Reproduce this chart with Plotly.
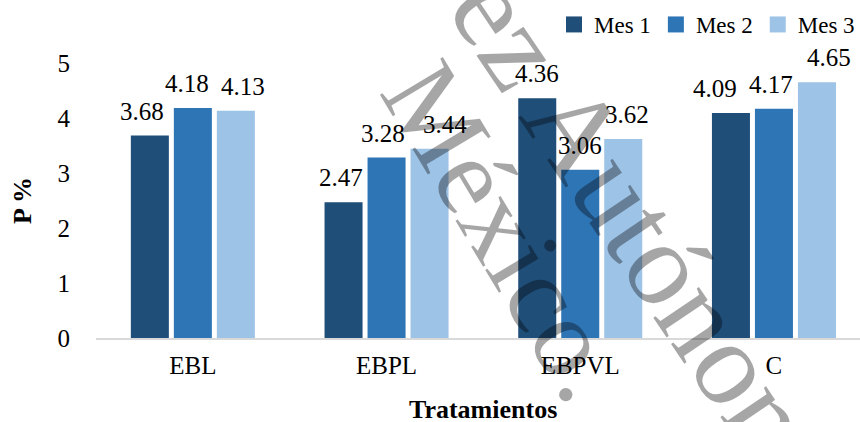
import plotly.graph_objects as go

# Phosphorus content per treatment and month
categories = ["EBL", "EBPL", "EBPVL", "C"]
series_names = ["Mes 1", "Mes 2", "Mes 3"]
mes1 = [3.68, 2.47, 4.36, 4.09]
mes2 = [4.18, 3.28, 3.06, 4.17]
mes3 = [4.13, 3.44, 3.62, 4.65]
y_ticks = [0, 1, 2, 3, 4, 5]

colors = ["#1F4E79", "#2E75B6", "#9DC3E6"]
# horizontal nudges (px) that keep neighbouring value labels apart
label_nudge = [
    [-8, -3, 0, -16],
    [-6, -4, 0, -3],
    [7, 15, 4, 12],
]

SERIF = "Liberation Serif"
BARGAP = 0.334
BARGROUPGAP = 0.116

W, H = 860, 422
M_L, M_R, M_T, M_B = 96, 0, 63, 84

fig = go.Figure()
values = [mes1, mes2, mes3]
for name, vals, col in zip(series_names, values, colors):
    fig.add_trace(go.Bar(
        x=categories, y=vals, name=name,
        marker=dict(color=col, line=dict(width=0)),
        showlegend=False, hoverinfo="x+y",
    ))
    # legend swatch
    fig.add_trace(go.Scatter(
        x=[None], y=[None], mode="markers", name=name,
        marker=dict(symbol="square", size=16, color=col),
    ))

# value labels above each bar
slot = (1 - BARGAP) / len(series_names)
annotations = []
for i, vals in enumerate(values):
    off = (i - (len(series_names) - 1) / 2) * slot
    for j, v in enumerate(vals):
        annotations.append(dict(
            x=j + off, y=v, xref="x", yref="y",
            text=f"{v:.2f}", showarrow=False,
            xanchor="center", yanchor="bottom",
            xshift=label_nudge[i][j], yshift=9,
            font=dict(family=SERIF, size=25, color="black"),
        ))

plot_w = W - M_L - M_R
plot_h = H - M_T - M_B


def px(xp, yp):
    return (xp - M_L) / plot_w, (H - M_B - yp) / plot_h


# axis titles
tx, ty = px(483, 409)
annotations.append(dict(
    x=tx, y=ty, xref="paper", yref="paper", text="<b>Tratamientos</b>",
    showarrow=False, xanchor="center", yanchor="middle",
    font=dict(family=SERIF, size=26, color="black"),
))
tx, ty = px(22, 201)
annotations.append(dict(
    x=tx, y=ty, xref="paper", yref="paper", text="<b>P %</b>",
    showarrow=False, xanchor="center", yanchor="middle", textangle=-90,
    font=dict(family=SERIF, size=26, color="black"),
))

# diagonal watermark
tx, ty = px(506, 231)
annotations.append(dict(
    x=tx, y=ty, xref="paper", yref="paper", text="México.",
    showarrow=False, xanchor="center", yanchor="middle", textangle=59,
    font=dict(family=SERIF, size=112, color="rgba(0,0,0,0.35)"),
))
tx, ty = px(656, 250)
annotations.append(dict(
    x=tx, y=ty, xref="paper", yref="paper", text="ez Autónoma",
    showarrow=False, xanchor="center", yanchor="middle", textangle=56,
    font=dict(family=SERIF, size=120, color="rgba(0,0,0,0.35)"),
))

span = plot_w / 193.7
fig.update_layout(
    width=W, height=H,
    margin=dict(l=M_L, r=M_R, t=M_T, b=M_B, pad=0, autoexpand=False),
    paper_bgcolor="white", plot_bgcolor="white",
    barmode="group", bargap=BARGAP, bargroupgap=BARGROUPGAP,
    font=dict(family=SERIF),
    xaxis=dict(
        type="category", range=[-0.5, -0.5 + span],
        showline=True, linecolor="#D9D9D9", linewidth=1.5,
        showgrid=False, ticks="outside", ticklen=4, tickcolor="rgba(0,0,0,0)",
        zeroline=False,
        tickfont=dict(family=SERIF, size=25, color="black"),
    ),
    yaxis=dict(
        range=[0, 5], tickvals=y_ticks, showline=False, showgrid=False,
        zeroline=False, ticks="outside", ticklen=20, tickcolor="rgba(0,0,0,0)",
        tickfont=dict(family=SERIF, size=25, color="black"),
    ),
    legend=dict(
        orientation="h", x=1, xanchor="right", y=1.14, yanchor="middle",
        font=dict(family=SERIF, size=23, color="black"),
        bgcolor="rgba(0,0,0,0)", itemwidth=30,
    ),
    annotations=annotations,
    showlegend=True,
)

fig.write_html("out.html")
